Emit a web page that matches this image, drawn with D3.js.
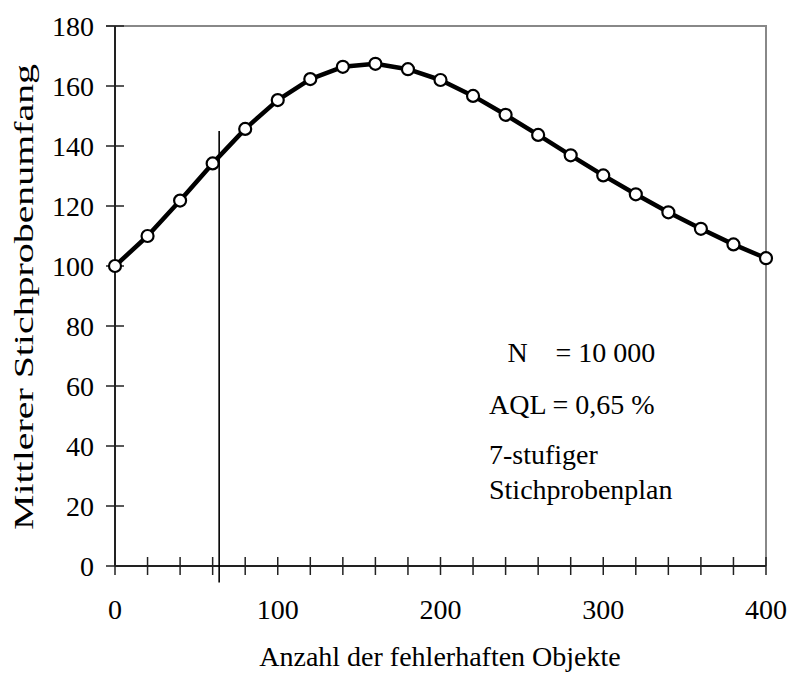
<!DOCTYPE html>
<html>
<head>
<meta charset="utf-8">
<script src="https://cdn.jsdelivr.net/npm/d3@7"></script>
<style>
  html, body { margin: 0; padding: 0; background: #fff; }
  svg text { font-family: "Liberation Serif", "Times New Roman", serif; fill: #000; }
</style>
</head>
<body>
<svg id="chart" width="787" height="681"></svg>
<script>
// Anzahl der fehlerhaften Objekte (x) und mittlerer Stichprobenumfang (y)
const defects = [0, 20, 40, 60, 80, 100, 120, 140, 160, 180, 200,
                 220, 240, 260, 280, 300, 320, 340, 360, 380, 400];
const asn = [100, 110, 121.8, 134.2, 145.7, 155.3, 162.3, 166.4, 167.4, 165.6, 162,
             156.7, 150.4, 143.7, 136.9, 130.2, 123.9, 117.9, 112.4, 107.2, 102.6];

const xTickValues = [0, 100, 200, 300, 400];
const xMinorTicks = d3.range(0, 401, 20);
const yTickValues = [0, 20, 40, 60, 80, 100, 120, 140, 160, 180];

// Senkrechte Markierung bei x = 64
const refX = 64;
const refY = [-5.5, 145];

const infoLines = ["AQL = 0,65 %", "7-stufiger", "Stichprobenplan"];

const svg = d3.select("#chart");
const margin = { left: 115, right: 21, top: 26, bottom: 115 };
const W = 787, H = 681;

const x = d3.scaleLinear().domain([0, 400]).range([margin.left, W - margin.right]);
const y = d3.scaleLinear().domain([0, 180]).range([H - margin.bottom, margin.top]);

// Rahmen oben und rechts (grau)
svg.append("path")
  .attr("d", `M${x(0) - 9},${y(180)}H${x(400)}V${y(0)}`)
  .attr("fill", "none").attr("stroke", "#888").attr("stroke-width", 2);

// y-Achse
const yAxis = svg.append("g");
yAxis.append("line")
  .attr("x1", x(0)).attr("x2", x(0)).attr("y1", y(0)).attr("y2", y(180))
  .attr("stroke", "#222").attr("stroke-width", 2);
yAxis.selectAll("line.tick").data(yTickValues).join("line")
  .attr("class", "tick")
  .attr("x1", x(0) - 9).attr("x2", x(0) + 9)
  .attr("y1", d => y(d)).attr("y2", d => y(d))
  .attr("stroke", "#222").attr("stroke-width", 1.5);
yAxis.selectAll("text").data(yTickValues).join("text")
  .attr("x", x(0) - 21).attr("y", d => y(d))
  .attr("dy", "0.35em")
  .attr("text-anchor", "end")
  .attr("font-size", 28)
  .text(d => d);

// x-Achse
const xAxis = svg.append("g");
xAxis.append("line")
  .attr("x1", x(0)).attr("x2", x(400)).attr("y1", y(0)).attr("y2", y(0))
  .attr("stroke", "#222").attr("stroke-width", 2);
xAxis.selectAll("line.tick").data(xMinorTicks).join("line")
  .attr("class", "tick")
  .attr("x1", d => x(d)).attr("x2", d => x(d))
  .attr("y1", y(0) - 9).attr("y2", y(0) + 9)
  .attr("stroke", "#222").attr("stroke-width", 1.5);
xAxis.selectAll("text").data(xTickValues).join("text")
  .attr("x", d => x(d)).attr("y", y(0) + 53)
  .attr("text-anchor", "middle")
  .attr("font-size", 28)
  .text(d => d);

// Achsentitel
svg.append("text")
  .attr("x", 440).attr("y", 666)
  .attr("text-anchor", "middle")
  .attr("font-size", 28)
  .text("Anzahl der fehlerhaften Objekte");

svg.append("text")
  .attr("transform", `translate(33,${297}) rotate(-90)`)
  .attr("text-anchor", "middle")
  .attr("font-size", 28)
  .attr("textLength", 466)
  .attr("lengthAdjust", "spacingAndGlyphs")
  .text("Mittlerer Stichprobenumfang");

// Markierungslinie
svg.append("line")
  .attr("x1", x(refX)).attr("x2", x(refX))
  .attr("y1", y(refY[0])).attr("y2", y(refY[1]))
  .attr("stroke", "#000").attr("stroke-width", 1.6);

// Kurve mit Punkten
const pts = defects.map((d, i) => [d, asn[i]]);
svg.append("path")
  .datum(pts)
  .attr("d", d3.line().x(d => x(d[0])).y(d => y(d[1])))
  .attr("fill", "none").attr("stroke", "#000").attr("stroke-width", 4.5)
  .attr("stroke-linejoin", "round");
svg.selectAll("circle").data(pts).join("circle")
  .attr("cx", d => x(d[0])).attr("cy", d => y(d[1]))
  .attr("r", 6)
  .attr("fill", "#fff").attr("stroke", "#000").attr("stroke-width", 2.2);

// Textblock
const info = svg.append("g").attr("font-size", 28);
info.append("text").attr("x", 507.5).attr("y", 362).text("N");
info.append("text").attr("x", 555.5).attr("y", 362).text("= 10 000");
info.selectAll("text.line").data(infoLines).join("text")
  .attr("class", "line")
  .attr("x", 489)
  .attr("y", (d, i) => [414, 464, 499][i])
  .text(d => d);
</script>
</body>
</html>
